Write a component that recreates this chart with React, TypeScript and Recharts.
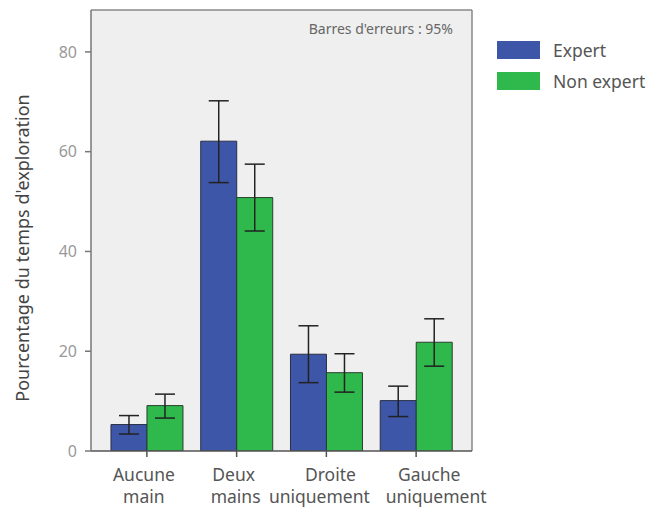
import React from "react";
import { BarChart, Bar, XAxis, YAxis, CartesianGrid, ErrorBar } from "recharts";

const categories = ["Aucune main", "Deux mains", "Droite uniquement", "Gauche uniquement"];
const expertMean = [5.3, 62.1, 19.4, 10.1];
const expertLow = [3.4, 53.8, 13.7, 6.9];
const expertHigh = [7.1, 70.2, 25.1, 13.0];
const nonExpertMean = [9.1, 50.8, 15.7, 21.8];
const nonExpertLow = [6.6, 44.1, 11.8, 17.0];
const nonExpertHigh = [11.4, 57.5, 19.5, 26.5];
const yTicks = [0, 20, 40, 60, 80];
const seriesNames = ["Expert", "Non expert"];
const seriesColors = ["#3d56a8", "#2fb84b"];

// horizontal nudges of each tick label's two lines (style only)
const labelNudge = [[-3, -3], [-3, -1], [4, -7], [13, 20]];

const data = categories.map((c, i) => ({
  cat: c,
  expert: expertMean[i],
  expertErr: [expertMean[i] - expertLow[i], expertHigh[i] - expertMean[i]],
  nonExpert: nonExpertMean[i],
  nonExpertErr: [nonExpertMean[i] - nonExpertLow[i], nonExpertHigh[i] - nonExpertMean[i]],
}));

const FONT = "'Noto Sans', sans-serif";

const XTick = (props: any) => {
  const { x, y, payload, index } = props;
  const s = String(payload.value);
  const idx = s.indexOf(" ");
  const l1 = s.slice(0, idx);
  const l2 = s.slice(idx + 1);
  const nudge = labelNudge[index] || [0, 0];
  return (
    <g>
      <text x={x + nudge[0]} y={y + 22} textAnchor="middle" fontSize={17.5} fill="#555" fontFamily={FONT}>{l1}</text>
      <text x={x + nudge[1]} y={y + 44} textAnchor="middle" fontSize={17.5} fill="#555" fontFamily={FONT}>{l2}</text>
    </g>
  );
};

const YLabel = () => {
  const cx = 22;
  const cy = 248;
  return (
    <text x={cx} y={cy} transform={`rotate(-90, ${cx}, ${cy})`} textAnchor="middle" dominantBaseline="central" fontSize={18} fill="#444" fontFamily={FONT}>
      Pourcentage du temps d'exploration
    </text>
  );
};

export default function App() {
  return (
    <div style={{ position: "absolute", left: 0, top: 0, width: 653, height: 508, background: "#fff" }}>
      <BarChart
        width={653}
        height={508}
        data={data}
        margin={{ top: 10, right: 181, bottom: 0, left: 0 }}
        barCategoryGap="10%"
        barGap={0}
      >
        <CartesianGrid
          fill="#efefef"
          stroke="#888"
          strokeWidth={1.5}
          horizontalCoordinatesGenerator={(p: any) => [p.offset.top]}
          verticalCoordinatesGenerator={(p: any) => [p.offset.left + p.offset.width]}
        />
        <XAxis
          dataKey="cat"
          height={57}
          padding={{ left: 11, right: 11 }}
          axisLine={{ stroke: "#555", strokeWidth: 1.5 }}
          tickLine={{ stroke: "#555", strokeWidth: 1.5 }}
          tickSize={6}
          tick={<XTick />}
          interval={0}
        />
        <YAxis
          width={91}
          domain={[0, 88.4]}
          ticks={yTicks}
          interval={0}
          allowDataOverflow
          axisLine={{ stroke: "#777", strokeWidth: 1.5 }}
          tickLine={{ stroke: "#777", strokeWidth: 1.5 }}
          tickSize={6}
          tickMargin={8}
          tick={{ fontSize: 16, fill: "#999", fontFamily: FONT }}
          label={<YLabel />}
        />
        <Bar dataKey="expert" name={seriesNames[0]} fill={seriesColors[0]} stroke="#2a2f45" strokeWidth={1} isAnimationActive={false}>
          <ErrorBar dataKey="expertErr" width={10} stroke="#222" strokeWidth={1.5} direction="y" />
        </Bar>
        <Bar dataKey="nonExpert" name={seriesNames[1]} fill={seriesColors[1]} stroke="#2a3f2e" strokeWidth={1} isAnimationActive={false}>
          <ErrorBar dataKey="nonExpertErr" width={10} stroke="#222" strokeWidth={1.5} direction="y" />
        </Bar>
      </BarChart>
      <div style={{ position: "absolute", left: 300, top: 19, width: 153, textAlign: "right", fontSize: 14, color: "#666", fontFamily: FONT }}>
        Barres d'erreurs : 95%
      </div>
      <div style={{ position: "absolute", left: 497, top: 34, fontFamily: FONT }}>
        {seriesNames.map((n, i) => (
          <div key={n} style={{ display: "flex", alignItems: "center", height: 31 }}>
            <div style={{ width: 43, height: 18, background: seriesColors[i], marginRight: 13 }} />
            <span style={{ fontSize: 17.5, color: "#555" }}>{n}</span>
          </div>
        ))}
      </div>
    </div>
  );
}
